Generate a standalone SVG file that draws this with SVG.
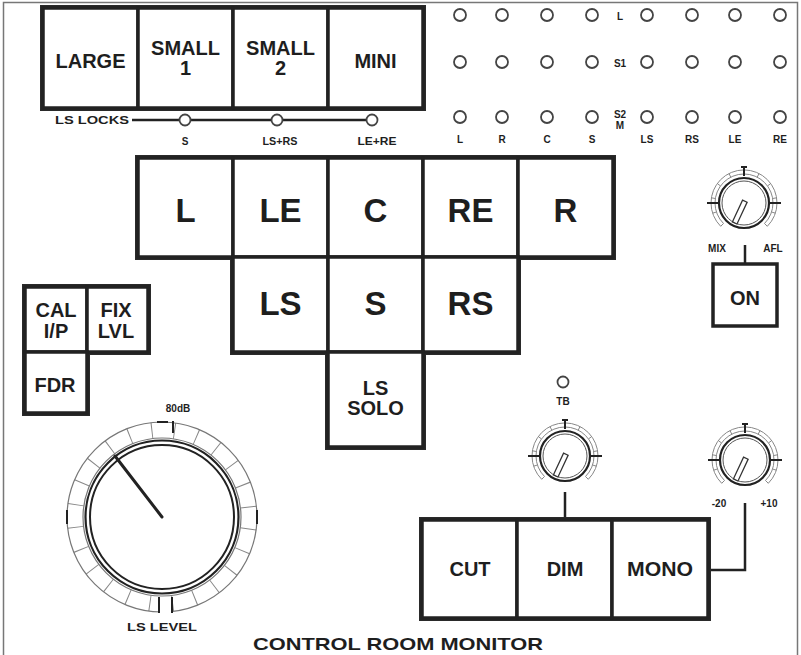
<svg xmlns="http://www.w3.org/2000/svg" xmlns:xlink="http://www.w3.org/1999/xlink" width="801" height="655" viewBox="0 0 801 655">
<style>
  text { font-family: "Liberation Sans", Arial, sans-serif; font-weight: bold; fill: #1e1e1e; text-anchor: middle; }
  .btn { fill: #fff; stroke: #222; stroke-width: 3.5; }
  .frame { fill: none; stroke: #2a2a2a; stroke-width: 2; }
  .big { font-size: 33px; }
  .mid { font-size: 20px; }
  .sm { font-size: 10px; }
  .led { fill: none; stroke: #444; stroke-width: 1.8; }
  .wire { fill: none; stroke: #222; stroke-width: 2.5; }
  .seg { fill: none; stroke: #888; stroke-width: 1; }
  .dark { fill: none; stroke: #222; stroke-width: 2; }
</style>
<defs>
  <g id="knob">
    <path class="seg" d="M-23.3,23.3 A33,33 0 1 1 23.3,23.3"/>
    <path class="seg" d="M-20.5,20.5 A29,29 0 1 1 20.5,20.5"/>
    <path class="seg" d="M-20.5,20.5L-23.3,23.3M-27.6,9L-31.4,10.2M-28.7,-4.5L-32.6,-5.2M-23.5,-17.1L-26.7,-19.4M-13.2,-25.8L-15,-29.4M13.2,-25.8L15,-29.4M23.5,-17.1L26.7,-19.4M28.7,-4.5L32.6,-5.2M27.6,9L31.4,10.2M20.5,20.5L23.3,23.3"/>
    <path class="dark" d="M0,-27V-36M-3,-36H3M-37,0H-26M26,0H37" stroke-width="1.6"/>
    <circle r="25" fill="#fff" stroke="#222" stroke-width="2.2"/>
    <circle r="22" fill="none" stroke="#555" stroke-width="1"/>
    <rect x="-2.5" y="-2" width="5" height="24" fill="#fff" stroke="#333" stroke-width="1.3" transform="rotate(25)"/>
  </g>
</defs>

<rect x="0" y="0" width="801" height="655" fill="#fff"/>
<rect x="3.5" y="2.5" width="794" height="670" fill="none" stroke="#777" stroke-width="1.5"/>

<!-- connectors -->
<g id="connectors">
  <path class="wire" d="M132,120H179M191,120H271M283,120H366" stroke-width="2"/>
  <path class="wire" d="M745,245V264"/>
  <path class="wire" d="M565,492V520"/>
  <path class="wire" d="M745,503V570H708"/>
</g>

<!-- speaker size buttons -->
<rect class="frame" x="41" y="6" width="384" height="104" stroke-width="3"/>
<g id="btn-large"><rect class="btn" x="43" y="8" width="95" height="100"/><text class="mid" x="90.5" y="68">LARGE</text></g>
<g id="btn-small1"><rect class="btn" x="138" y="8" width="95" height="100"/><text class="mid" x="185.5" y="55">SMALL</text><text class="mid" x="185.5" y="75">1</text></g>
<g id="btn-small2"><rect class="btn" x="233" y="8" width="95" height="100"/><text class="mid" x="280.5" y="55">SMALL</text><text class="mid" x="280.5" y="75">2</text></g>
<g id="btn-mini"><rect class="btn" x="328" y="8" width="95" height="100"/><text class="mid" x="375.5" y="68">MINI</text></g>

<!-- LS locks -->
<g id="ls-locks">
  <text class="sm" x="92" y="124" textLength="74" lengthAdjust="spacingAndGlyphs">LS LOCKS</text>
  <circle class="led" cx="185" cy="120" r="5.5"/>
  <circle class="led" cx="277" cy="120" r="5.5"/>
  <circle class="led" cx="372" cy="120" r="5.5"/>
  <text class="sm" x="185" y="145">S</text>
  <text class="sm" x="280" y="145" textLength="35" lengthAdjust="spacingAndGlyphs">LS+RS</text>
  <text class="sm" x="377" y="145" textLength="39" lengthAdjust="spacingAndGlyphs">LE+RE</text>
</g>

<!-- LED matrix -->
<g id="led-matrix">
  <g>
    <circle class="led" cx="460" cy="15" r="6"/><circle class="led" cx="502" cy="15" r="6"/><circle class="led" cx="547" cy="15" r="6"/><circle class="led" cx="592" cy="15" r="6"/>
    <circle class="led" cx="647" cy="15" r="6"/><circle class="led" cx="692" cy="15" r="6"/><circle class="led" cx="735" cy="15" r="6"/><circle class="led" cx="780" cy="15" r="6"/>
    <circle class="led" cx="460" cy="62" r="6"/><circle class="led" cx="502" cy="62" r="6"/><circle class="led" cx="547" cy="62" r="6"/><circle class="led" cx="592" cy="62" r="6"/>
    <circle class="led" cx="647" cy="62" r="6"/><circle class="led" cx="692" cy="62" r="6"/><circle class="led" cx="735" cy="62" r="6"/><circle class="led" cx="780" cy="62" r="6"/>
    <circle class="led" cx="460" cy="117" r="6"/><circle class="led" cx="502" cy="117" r="6"/><circle class="led" cx="547" cy="117" r="6"/><circle class="led" cx="592" cy="117" r="6"/>
    <circle class="led" cx="647" cy="117" r="6"/><circle class="led" cx="692" cy="117" r="6"/><circle class="led" cx="735" cy="117" r="6"/><circle class="led" cx="780" cy="117" r="6"/>
  </g>
  <text class="sm" x="620" y="20">L</text>
  <text class="sm" x="620" y="67">S1</text>
  <text class="sm" x="620" y="118">S2</text>
  <text class="sm" x="620" y="129">M</text>
  <text class="sm" x="460" y="143">L</text>
  <text class="sm" x="502" y="143">R</text>
  <text class="sm" x="547" y="143">C</text>
  <text class="sm" x="592" y="143">S</text>
  <text class="sm" x="647" y="143">LS</text>
  <text class="sm" x="692" y="143">RS</text>
  <text class="sm" x="735" y="143">LE</text>
  <text class="sm" x="780" y="143">RE</text>
</g>

<!-- speaker select grid -->
<path class="frame" d="M136,156H615V259H520V354H425V449H326V354H231V259H136Z"/>
<g id="btn-L"><rect class="btn" x="138" y="158" width="95" height="99"/><text class="big" x="185.5" y="222">L</text></g>
<g id="btn-LE"><rect class="btn" x="233" y="158" width="95" height="99"/><text class="big" x="280.5" y="222">LE</text></g>
<g id="btn-C"><rect class="btn" x="328" y="158" width="95" height="99"/><text class="big" x="375.5" y="222">C</text></g>
<g id="btn-RE"><rect class="btn" x="423" y="158" width="95" height="99"/><text class="big" x="470.5" y="222">RE</text></g>
<g id="btn-R"><rect class="btn" x="518" y="158" width="95" height="99"/><text class="big" x="565.5" y="222">R</text></g>
<g id="btn-LS"><rect class="btn" x="233" y="257" width="95" height="95"/><text class="big" x="280.5" y="315">LS</text></g>
<g id="btn-S"><rect class="btn" x="328" y="257" width="95" height="95"/><text class="big" x="375.5" y="315">S</text></g>
<g id="btn-RS"><rect class="btn" x="423" y="257" width="95" height="95"/><text class="big" x="470.5" y="315">RS</text></g>
<g id="btn-LSSOLO"><rect class="btn" x="328" y="352" width="95" height="95"/><text class="mid" x="375.5" y="395">LS</text><text class="mid" x="375.5" y="415">SOLO</text></g>

<!-- left small buttons -->
<path class="frame" d="M23,285H150V354H89V415H23Z"/>
<g id="btn-cal"><rect class="btn" x="25" y="287" width="62" height="65"/><text class="mid" x="56" y="317">CAL</text><text class="mid" x="56" y="338">I/P</text></g>
<g id="btn-fix"><rect class="btn" x="87" y="287" width="61" height="65"/><text class="mid" x="116" y="317">FIX</text><text class="mid" x="116" y="338">LVL</text></g>
<g id="btn-fdr"><rect class="btn" x="25" y="352" width="62" height="61"/><text class="mid" x="55" y="392">FDR</text></g>

<!-- MIX/AFL knob + ON -->
<g id="knob-mixafl">
  <use xlink:href="#knob" href="#knob" transform="translate(744,203)"/>
  <text class="sm" x="717" y="252">MIX</text>
  <text class="sm" x="773" y="252">AFL</text>
</g>
<g id="btn-on"><rect class="btn" x="713" y="264" width="64" height="62"/><text class="mid" x="745" y="305">ON</text></g>

<!-- LS level dial -->
<g id="dial-lslevel">
  <circle cx="162" cy="517" r="87" fill="none" stroke="#888" stroke-width="16" stroke-dasharray="1 21.78" transform="rotate(7.5 162 517)"/>
  <circle cx="162" cy="517" r="95" fill="none" stroke="#777" stroke-width="1.2"/>
  <circle cx="162" cy="517" r="79" fill="none" stroke="#777" stroke-width="1.2"/>
  <circle cx="162" cy="517" r="76.5" fill="none" stroke="#222" stroke-width="2.2"/>
  <circle cx="162" cy="517" r="72" fill="none" stroke="#222" stroke-width="2"/>
  <rect x="160" y="597" width="12" height="18" fill="#fff"/>
  <path class="dark" d="M157,422H168M173,421V433M159,597V613M172,597V613M67,510V524M257,510V524" stroke-width="2.2"/>
  <line x1="162" y1="517" x2="115" y2="456" stroke="#222" stroke-width="3" stroke-linecap="round"/>
  <text class="sm" x="178" y="412">80dB</text>
  <text class="sm" x="162" y="631" textLength="70" lengthAdjust="spacingAndGlyphs">LS LEVEL</text>
</g>

<!-- TB led + DIM knob -->
<g id="led-tb">
  <circle class="led" cx="563" cy="382" r="5.5"/>
  <text class="sm" x="563" y="405">TB</text>
</g>
<g id="knob-dim"><use xlink:href="#knob" href="#knob" transform="translate(565,456)"/></g>
<g id="knob-mono">
  <use xlink:href="#knob" href="#knob" transform="translate(745,460)"/>
  <text class="sm" x="719" y="507">-20</text>
  <text class="sm" x="769" y="507">+10</text>
</g>

<!-- CUT / DIM / MONO -->
<rect class="frame" x="420" y="518" width="290" height="102" stroke-width="3"/>
<g id="btn-cut"><rect class="btn" x="422" y="520" width="95" height="98"/><text class="mid" x="470" y="576" font-size="19">CUT</text></g>
<g id="btn-dim"><rect class="btn" x="517" y="520" width="95" height="98"/><text class="mid" x="565" y="576" font-size="19">DIM</text></g>
<g id="btn-mono"><rect class="btn" x="612" y="520" width="96" height="98"/><text class="mid" x="660" y="576" textLength="66" lengthAdjust="spacingAndGlyphs">MONO</text></g>

<text x="398" y="650" font-size="17" textLength="290" lengthAdjust="spacingAndGlyphs">CONTROL ROOM MONITOR</text>
</svg>
